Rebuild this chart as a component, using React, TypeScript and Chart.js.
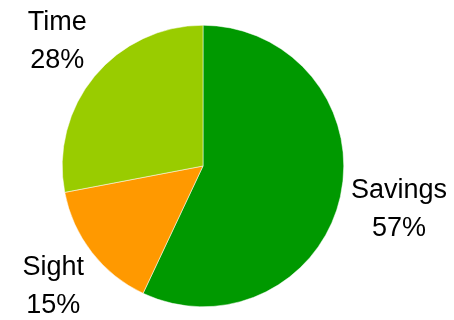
import React, { useEffect, useRef } from "react";
import { Chart, registerables } from "chart.js";

Chart.register(...registerables);

const categories = ["Savings", "Sight", "Time"];
const values = [57, 15, 28];
const colors = ["#009900", "#FF9900", "#99CC00"];

const outsideLabels = {
  id: "outsideLabels",
  afterDatasetsDraw(chart: any) {
    const ctx = chart.ctx;
    const meta = chart.getDatasetMeta(0);
    const data = chart.data.datasets[0].data as number[];
    const total = data.reduce((a, b) => a + b, 0);
    ctx.save();
    ctx.font = "27px 'Liberation Sans', Arial, sans-serif";
    ctx.fillStyle = "#000000";
    ctx.textAlign = "center";
    ctx.textBaseline = "alphabetic";
    meta.data.forEach((arc: any, i: number) => {
      const { x, y, startAngle, endAngle, outerRadius } = arc.getProps(
        ["x", "y", "startAngle", "endAngle", "outerRadius"],
        true
      );
      const mid = (startAngle + endAngle) / 2;
      const r = outerRadius + 55;
      const cx = x + Math.cos(mid) * r + 5;
      const cy = y + Math.sin(mid) * r;
      const pct = Math.round((data[i] / total) * 100) + "%";
      ctx.fillText(chart.data.labels[i], cx, cy - 11);
      ctx.fillText(pct, cx, cy + 27);
    });
    ctx.restore();
  },
};

export default function App() {
  const ref = useRef<HTMLCanvasElement | null>(null);
  useEffect(() => {
    if (!ref.current) return;
    const chart = new Chart(ref.current, {
      type: "pie",
      data: {
        labels: categories,
        datasets: [
          {
            data: values,
            backgroundColor: colors,
            borderColor: "#ffffff",
            borderWidth: 0.5,
          },
        ],
      },
      options: {
        responsive: false,
        animation: false,
        layout: { padding: { left: 62, right: 110, top: 25, bottom: 13 } },
        plugins: {
          legend: { display: false },
          tooltip: { enabled: false },
        },
      },
      plugins: [outsideLabels],
    });
    return () => chart.destroy();
  }, []);
  return (
    <div style={{ position: "absolute", left: 0, top: 0, width: 454, height: 320, background: "#fff" }}>
      <canvas ref={ref} width={454} height={320} style={{ width: 454, height: 320 }} />
    </div>
  );
}
